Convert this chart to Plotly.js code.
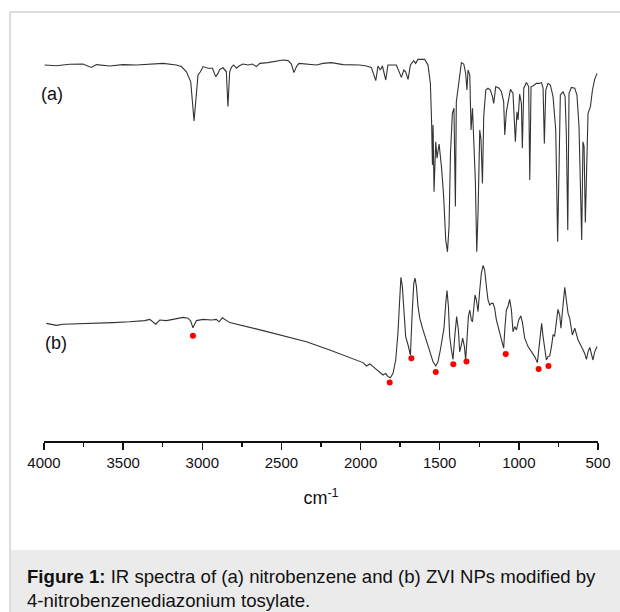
<!DOCTYPE html>
<html>
<head>
<meta charset="utf-8">
<script src="https://cdn.plot.ly/plotly-3.0.1.min.js"></script>
<style>html,body{margin:0;padding:0;background:#fff;}#chart{width:620px;height:612px;}</style>
</head>
<body>
<div id="chart"></div>
<script>
// Wavenumbers (cm-1) and relative transmittance (arbitrary offset units)
const waveA = [3996,3922,3838,3754,3701,3669,3585,3501,3416,3332,3248,3164,3132,3100,3073,3052,3037,3027,3012,2995,2964,2936,2915,2901,2890,2869,2848,2838,2827,2816,2802,2784,2768,2743,2711,2683,2658,2637,2585,2522,2490,2458,2437,2421,2405,2389,2342,2279,2237,2184,2111,2016,2006,1963,1932,1904,1890,1875,1862,1841,1827,1774,1742,1727,1715,1700,1685,1664,1652,1637,1595,1574,1559,1551,1546,1542,1536,1525,1517,1504,1489,1475,1462,1451,1441,1432,1420,1410,1401,1395,1384,1374,1363,1348,1336,1328,1321,1310,1302,1293,1283,1275,1266,1258,1247,1239,1230,1222,1209,1195,1180,1167,1159,1146,1125,1110,1096,1089,1079,1069,1053,1037,1028,1022,1012,1005,995,984,978,969,952,938,931,923,911,889,873,857,847,839,830,816,801,784,767,755,746,738,721,708,700,691,683,668,647,633,620,611,603,595,588,580,571,563,548,535,521,506];
const transA = [94.0,93.8,94.2,94.25,93.4,94.1,93.75,94.1,94.0,94.25,94.4,94.0,93.6,92.3,89.8,80.0,87.75,91.5,92.3,93.6,93.2,93.2,91.1,91.9,92.9,93.3,92.3,83.6,92.3,93.4,94.0,93.2,93.75,94.25,94.0,94.25,93.6,94.4,94.6,95.1,95.25,95.1,94.25,92.1,93.6,94.4,94.25,94.0,94.4,94.6,94.1,94.1,94.0,93.75,93.4,90.1,93.75,92.75,93.75,90.25,94.0,94.0,90.9,92.75,92.3,90.4,94.0,95.1,94.4,95.4,95.4,94.0,89.4,79.4,69.0,79.0,62.3,74.8,70.7,74.25,68.6,61.1,50.25,47.3,53.6,71.9,81.9,83.2,58.6,84.8,88.6,91.9,94.6,94.25,91.9,87.75,92.75,91.5,77.75,83.2,72.75,65.25,47.3,56.9,77.75,75.25,64.4,81.1,87.75,88.2,87.75,86.1,84.4,88.6,88.2,87.3,84.8,76.5,82.3,84.8,87.9,86.9,81.1,74.8,82.3,80.25,86.75,84.4,73.2,88.2,89.6,88.6,65.25,88.6,88.75,89.4,89.4,89.6,88.2,74.4,87.75,89.4,89.0,86.1,77.75,49.8,68.6,86.5,87.3,86.1,76.9,52.75,86.9,88.4,88.2,86.5,78.6,65.25,50.25,74.8,73.6,54.6,73.6,81.9,83.6,87.75,90.4,91.9];

const waveB = [3985,3922,3880,3669,3564,3459,3364,3332,3294,3269,3227,3185,3153,3122,3090,3073,3059,3037,2995,2942,2911,2894,2873,2827,2616,2405,2342,2195,2090,2006,1985,1963,1942,1921,1890,1858,1841,1827,1812,1795,1778,1764,1753,1745,1736,1726,1715,1700,1685,1675,1664,1656,1647,1637,1626,1609,1595,1584,1563,1542,1525,1511,1496,1483,1473,1462,1454,1445,1437,1426,1416,1405,1393,1382,1374,1363,1355,1344,1336,1328,1319,1310,1300,1293,1283,1277,1268,1258,1247,1237,1226,1216,1205,1195,1184,1173,1163,1153,1142,1125,1110,1096,1089,1079,1069,1058,1047,1037,1026,1015,1001,988,978,963,942,921,900,883,873,864,856,847,837,826,816,805,794,784,774,763,753,742,734,725,717,710,700,689,679,668,662,647,636,626,605,584,573,563,552,542,532,521,506];
const transB = [29.4,28.9,29.2,29.4,29.6,29.8,30.1,30.4,29.2,30.25,30.1,30.4,30.7,30.9,30.7,30.0,28.3,30.1,30.4,30.25,30.4,29.8,30.8,29.6,27.6,25.4,24.8,22.75,21.25,20.0,19.6,18.75,19.25,18.6,17.6,16.5,16.9,16.1,15.8,16.9,20.25,26.9,35.25,40.9,38.6,31.1,26.1,24.0,21.5,31.1,39.4,40.7,38.6,33.6,30.7,28.2,26.5,24.8,22.3,19.8,18.75,19.8,22.75,25.7,28.2,34.4,37.6,33.6,26.1,22.75,20.4,26.1,31.1,27.75,22.3,24.0,25.7,23.6,20.25,25.25,31.1,32.75,30.25,29.8,34.4,36.5,35.25,32.3,37.75,41.9,43.9,42.75,38.6,35.25,34.0,34.4,34.4,33.2,30.25,27.75,25.7,23.2,27.75,32.75,33.6,35.4,32.75,27.3,28.6,27.75,30.25,31.25,29.8,25.7,23.6,22.3,21.1,19.6,22.75,26.1,29.4,26.1,22.75,20.25,21.1,21.25,23.6,26.5,26.25,29.8,32.9,31.5,28.2,32.3,36.5,38.4,35.25,31.9,30.7,28.2,26.5,28.2,26.5,25.25,23.6,21.9,20.4,22.3,23.4,21.9,20.25,22.3,23.6];

// Marked bands in spectrum (b)
const markWave = [3059,1816,1679,1525,1414,1331,1083,875,813];
const markTrans = [26.3,14.6,20.7,17.25,19.2,19.9,21.75,18.0,18.75];

const xTickVals = [4000,3500,3000,2500,2000,1500,1000,500];
const seriesLabels = ["(a)","(b)"];
const axisTitle = "cm<sup>-1</sup>";
const captionText = "<b>Figure 1:</b> IR spectra of (a) nitrobenzene and (b) ZVI NPs modified by<br>4-nitrobenzenediazonium tosylate.";

// layout geometry (pixels)
const W = 620, H = 612, L = 44, R = 22, T = 41, B = 171;
const pw = W - L - R, ph = H - T - B;
const px = x => (x - L) / pw;          // pixel -> paper x
const py = y => (H - B - y) / ph;      // pixel -> paper y

const traces = [
  {x: waveA, y: transA, type: 'scatter', mode: 'lines', line: {color: '#333333', width: 1.1}, hoverinfo: 'skip'},
  {x: waveB, y: transB, type: 'scatter', mode: 'lines', line: {color: '#333333', width: 1.1}, hoverinfo: 'skip'},
  {x: markWave, y: markTrans, type: 'scatter', mode: 'markers', marker: {color: '#ff0000', size: 6}, hoverinfo: 'skip'}
];

const font = 'Arial, "Liberation Sans", sans-serif';

const layout = {
  width: W, height: H,
  margin: {l: L, r: R, t: T, b: B, pad: 0},
  paper_bgcolor: '#ffffff', plot_bgcolor: '#ffffff',
  showlegend: false,
  font: {family: font, color: '#111'},
  xaxis: {
    range: [4000, 500], autorange: false,
    tickvals: xTickVals, ticktext: xTickVals.map(String),
    ticks: 'outside', ticklen: 7, tickwidth: 1.5, tickcolor: '#111',
    minor: {ticks: 'outside', ticklen: 4, tickwidth: 1.5, tickcolor: '#111', dtick: 250, tick0: 500, showgrid: false},
    showline: true, linecolor: '#111', linewidth: 1.5,
    showgrid: false, zeroline: false,
    tickfont: {size: 15, color: '#111', family: font},
    ticklabelstandoff: 0,
    title: {text: axisTitle, font: {size: 18, color: '#111', family: font}, standoff: 22}
  },
  yaxis: {range: [0, 100], autorange: false, visible: false, showgrid: false, zeroline: false},
  shapes: [
    {type: 'rect', xref: 'paper', yref: 'paper', x0: px(10), x1: px(621), y0: py(550), y1: py(613), fillcolor: '#ebebeb', line: {width: 0}, layer: 'below'},
    {type: 'line', xref: 'paper', yref: 'paper', x0: px(10), x1: px(621), y0: py(12), y1: py(12), line: {color: '#dcdcdc', width: 2}, layer: 'below'},
    {type: 'line', xref: 'paper', yref: 'paper', x0: px(10), x1: px(10), y0: py(12), y1: py(613), line: {color: '#dcdcdc', width: 2}, layer: 'below'}
  ],
  annotations: [
    {text: seriesLabels[0], xref: 'paper', yref: 'paper', x: px(39), y: py(94), xanchor: 'left', yanchor: 'middle', showarrow: false, font: {size: 18, color: '#111', family: font}},
    {text: seriesLabels[1], xref: 'paper', yref: 'paper', x: px(43), y: py(343), xanchor: 'left', yanchor: 'middle', showarrow: false, font: {size: 18, color: '#111', family: font}},
    {text: captionText, xref: 'paper', yref: 'paper', x: px(25), y: py(588), xanchor: 'left', yanchor: 'middle', align: 'left', showarrow: false, font: {size: 18.6, color: '#111', family: font}}
  ]
};

Plotly.newPlot('chart', traces, layout, {staticPlot: true, displayModeBar: false});
</script>
</body>
</html>
